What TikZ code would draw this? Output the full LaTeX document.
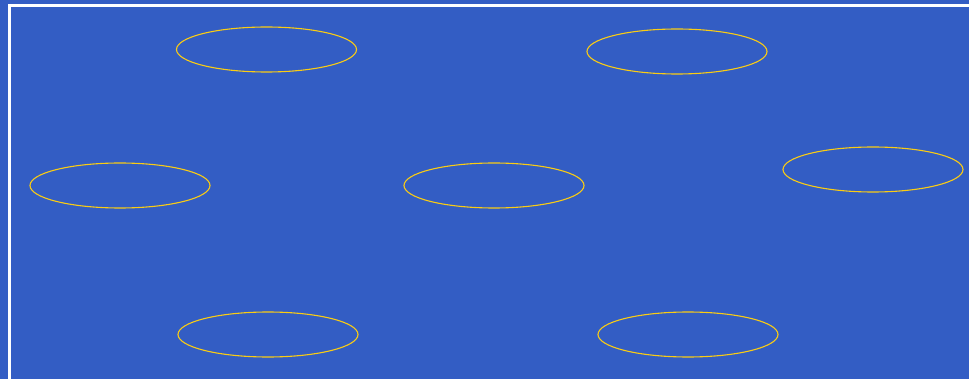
\documentclass[tikz,border=0pt]{standalone}
\usetikzlibrary{shapes.geometric}
\definecolor{bgblue}{RGB}{51,93,196}
\definecolor{ringgold}{RGB}{250,204,20}
\begin{document}
\begin{tikzpicture}[x=1pt,y=-1pt,
  ring/.style={ellipse,draw=ringgold,line width=1.1pt,minimum width=180pt,minimum height=45pt,inner sep=0pt}]
\fill[bgblue] (0,0) rectangle (969,379);
\useasboundingbox (0,0) rectangle (969,379);
\draw[white,line width=3pt] (9.5,385) -- (9.5,5.5) -- (975,5.5);
\node[ring] (e1) at (266.5,49.5) {};
\node[ring] (e2) at (677,51.5) {};
\node[ring] (e3) at (120,185.5) {};
\node[ring] (e4) at (494,185.5) {};
\node[ring] (e5) at (873,169.5) {};
\node[ring] (e6) at (268,334.5) {};
\node[ring] (e7) at (688,334.5) {};
\end{tikzpicture}
\end{document}
